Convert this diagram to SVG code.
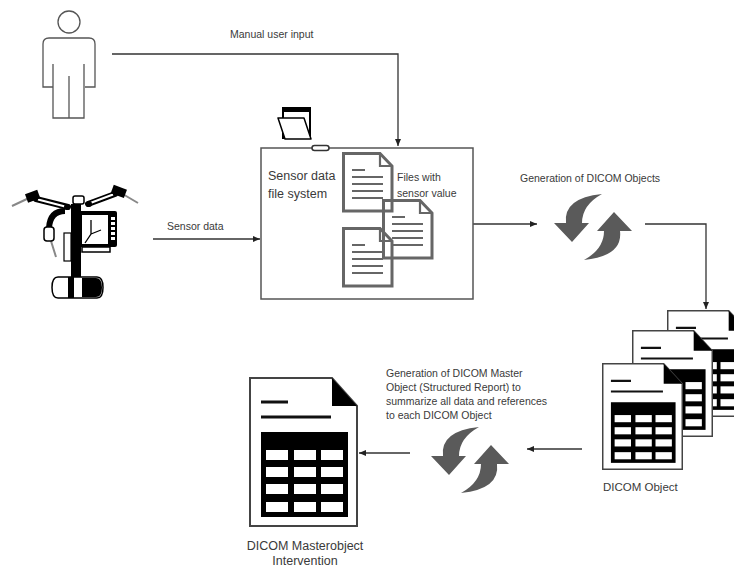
<svg xmlns="http://www.w3.org/2000/svg" xmlns:xlink="http://www.w3.org/1999/xlink" width="734" height="568" viewBox="0 0 734 568">
  <style>
    text { font-family: "Liberation Sans", Arial, sans-serif; fill: #3a3a3a; }
    .lbl { font-size: 10.5px; }
    .big { font-size: 12.5px; }
    .conn { fill: none; stroke: #333; stroke-width: 1.3; }
    .sync { fill: #5a5a5a; }
    .file { fill: none; stroke: #666; }
  </style>
  <defs>
    <marker id="arrow" markerWidth="7" markerHeight="6" refX="7" refY="3" orient="auto" markerUnits="userSpaceOnUse">
      <path d="M0,0 L7,3 L0,6 Z" fill="#222"/>
    </marker>
    <!-- curved half of the refresh icon; the other half is the same shape turned 180 degrees -->
    <path id="halfsync" d="M-39,-4 L-27,-4 Q-30,-29 9,-33 Q-11,-22 -11,-4 L-4,-4 L-21,15 Z"/>
    <g id="syncicon" class="sync">
      <use xlink:href="#halfsync"/>
      <use xlink:href="#halfsync" transform="rotate(180)"/>
    </g>
    <!-- plain text file with folded corner -->
    <g id="file" class="file">
      <path d="M1.5,1.5 H38 L50,14 V59 H1.5 Z" stroke-width="3" stroke-linejoin="miter"/>
      <path d="M38,1.5 V14 H50" stroke-width="2.2"/>
      <path d="M10,18 H23 M10,25 H41 M10,32 H41 M10,39 H41 M10,46 H41" stroke-width="2"/>
    </g>
    <!-- document with a table -->
    <symbol id="tabledoc" viewBox="0 0 109 150" preserveAspectRatio="none">
      <path d="M1,1 H83 L108,29 V149 H1 Z" fill="#fff" stroke="#444" stroke-width="2"/>
      <path d="M83,1 L108,29 H83 Z" fill="#000"/>
      <path d="M12,25 H39 M12,40 H82" stroke="#111" stroke-width="3"/>
      <rect x="12" y="55" width="87" height="85" fill="#000"/>
      <g fill="#fff">
        <rect x="17" y="73" width="22" height="10"/><rect x="45" y="73" width="22" height="10"/><rect x="72" y="73" width="22" height="10"/>
        <rect x="17" y="90" width="22" height="10"/><rect x="45" y="90" width="22" height="10"/><rect x="72" y="90" width="22" height="10"/>
        <rect x="17" y="107" width="22" height="10"/><rect x="45" y="107" width="22" height="10"/><rect x="72" y="107" width="22" height="10"/>
        <rect x="17" y="125" width="22" height="10"/><rect x="45" y="125" width="22" height="10"/><rect x="72" y="125" width="22" height="10"/>
      </g>
    </symbol>
  </defs>

  <rect width="734" height="568" fill="#fff"/>

  <!-- connectors -->
  <g id="connectors">
    <polyline class="conn" points="112,54 398,54 398,146" marker-end="url(#arrow)"/>
    <line class="conn" x1="153" y1="239" x2="260" y2="239" marker-end="url(#arrow)"/>
    <line class="conn" x1="473" y1="224" x2="537" y2="224" marker-end="url(#arrow)"/>
    <polyline class="conn" points="645,224 706,224 706,309" marker-end="url(#arrow)"/>
    <line class="conn" x1="582" y1="449" x2="527" y2="449" marker-end="url(#arrow)"/>
    <line class="conn" x1="410" y1="453" x2="359" y2="453" marker-end="url(#arrow)"/>
    <text class="lbl" x="230" y="38">Manual user input</text>
    <text class="lbl" x="167" y="230">Sensor data</text>
    <text class="lbl" x="520" y="182">Generation of DICOM Objects</text>
    <text class="lbl" x="386" y="377">Generation of DICOM Master</text>
    <text class="lbl" x="386" y="391">Object (Structured Report) to</text>
    <text class="lbl" x="386" y="405">summarize all data and references</text>
    <text class="lbl" x="386" y="419">to each DICOM Object</text>
  </g>

  <!-- user -->
  <g id="user" fill="none" stroke="#555" stroke-width="1.3">
    <circle cx="69" cy="22" r="11"/>
    <path d="M53,87 H43 V44 Q43,38 49,38 H89 Q95,38 95,44 V87 H85"/>
    <path d="M53,64 V118 H84 V64"/>
    <path d="M69,76 V118"/>
  </g>

  <!-- surgical robot -->
  <g id="robot">
    <path d="M12,206 L29,198 M121,193 L138,203 M51,241 L56,257" stroke="#888" stroke-width="2" fill="none"/>
    <path d="M36,199 L68,207 M88,204 L115,194" stroke="#000" stroke-width="6" stroke-linecap="round" fill="none"/>
    <path d="M38,199.5 L67,207 M89,203.5 L113,194.5" stroke="#fff" stroke-width="2.2" fill="none"/>
    <rect x="26" y="192" width="13" height="9" transform="rotate(-20 32 196)" fill="#000"/>
    <rect x="112" y="187" width="14" height="9" transform="rotate(20 119 191)" fill="#000"/>
    <path d="M65,211 Q50,211 49,228" stroke="#000" stroke-width="6" fill="none"/>
    <rect x="44" y="227" width="10" height="14" rx="3" fill="#fff" stroke="#000" stroke-width="1.5"/>
    <rect x="71" y="204" width="10" height="76" fill="#000"/>
    <rect x="73" y="196" width="11" height="8" rx="2" fill="#fff" stroke="#000" stroke-width="1.5"/>
    <circle cx="67" cy="207" r="3" fill="#000"/>
    <circle cx="89" cy="204" r="3" fill="#000"/>
    <rect x="64" y="233" width="7" height="28" fill="#fff" stroke="#000" stroke-width="1.2"/>
    <rect x="78" y="211" width="39" height="36" rx="2" fill="#000"/>
    <rect x="82" y="215" width="26" height="29" fill="#fff"/>
    <path d="M91,220 V234 L85,243 M91,234 L101,230" stroke="#000" stroke-width="1.3" fill="none"/>
    <g fill="#fff">
      <rect x="111" y="217" width="4" height="3"/><rect x="111" y="222" width="4" height="3"/>
      <rect x="111" y="227" width="4" height="3"/><rect x="111" y="232" width="4" height="3"/>
      <rect x="111" y="237" width="4" height="3"/>
    </g>
    <rect x="82" y="247" width="28" height="5" fill="#fff" stroke="#000" stroke-width="1.5"/>
    <path d="M58,277 H97 Q103,277 103,287.5 Q103,298 97,298 H58 Q52,298 52,287.5 Q52,277 58,277 Z" fill="#fff" stroke="#000" stroke-width="1.5"/>
    <path d="M82,278 H96 Q102,278 102,287.5 Q102,297 96,297 H82 Z" fill="#000"/>
    <rect x="68" y="277" width="6" height="21" fill="#000"/>
  </g>

  <!-- sensor data file system -->
  <g id="filesystem">
    <rect x="261" y="148" width="212" height="151" fill="#fff" stroke="#555" stroke-width="1.5"/>
    <!-- folder -->
    <rect x="283" y="108" width="27" height="30" fill="#fff" stroke="#000" stroke-width="2"/>
    <rect x="283" y="107" width="27" height="5" fill="#000"/>
    <path d="M278,118 H304 L311,139 H285 Z" fill="#fff" stroke="#000" stroke-width="1.5" stroke-linejoin="round"/>
    <rect x="312" y="145.5" width="17" height="5" rx="2.5" fill="#fff" stroke="#333" stroke-width="1.5"/>
    <text class="big" x="268" y="180">Sensor data</text>
    <text class="big" x="268" y="198">file system</text>
    <use xlink:href="#file" x="342" y="152"/>
    <use xlink:href="#file" x="382" y="199"/>
    <use xlink:href="#file" x="342" y="227"/>
    <text class="lbl" x="397" y="181">Files with</text>
    <text class="lbl" x="397" y="197">sensor value</text>
  </g>

  <!-- DICOM object generation -->
  <g id="gen-objects">
    <use xlink:href="#syncicon" transform="translate(593,227)"/>
  </g>

  <!-- DICOM objects -->
  <g id="dicom-objects">
    <use xlink:href="#tabledoc" x="667" y="310" width="81" height="107"/>
    <use xlink:href="#tabledoc" x="632" y="330" width="81" height="107"/>
    <use xlink:href="#tabledoc" x="602" y="363" width="81" height="107"/>
    <text x="603" y="491" style="font-size:11.5px">DICOM Object</text>
  </g>

  <!-- master object generation -->
  <g id="gen-master">
    <use xlink:href="#syncicon" transform="translate(470,460)"/>
  </g>

  <!-- DICOM master object -->
  <g id="master-object">
    <use xlink:href="#tabledoc" x="249" y="377" width="109" height="150"/>
    <text x="305" y="550" text-anchor="middle" style="font-size:12.5px">DICOM Masterobject</text>
    <text x="305" y="565" text-anchor="middle" style="font-size:12.5px">Intervention</text>
  </g>
</svg>
